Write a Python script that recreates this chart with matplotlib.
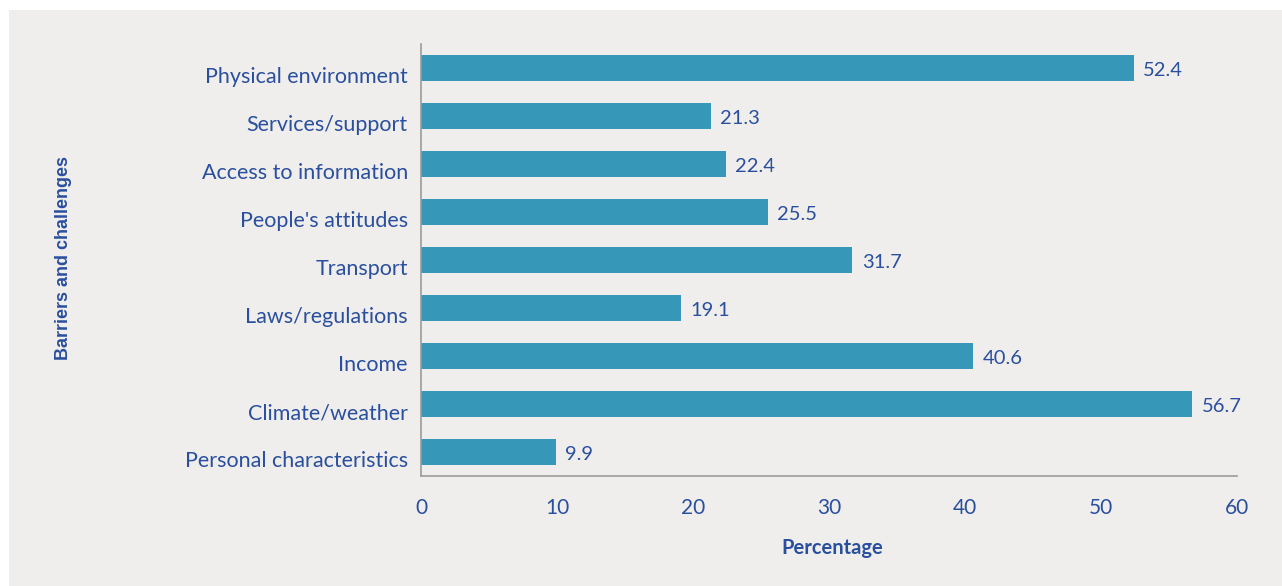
import matplotlib.pyplot as plt
from matplotlib.patches import Rectangle
from matplotlib.transforms import ScaledTranslation

categories = ["Physical environment", "Services/support", "Access to information",
              "People's attitudes", "Transport", "Laws/regulations", "Income",
              "Climate/weather", "Personal characteristics"]
values = [52.4, 21.3, 22.4, 25.5, 31.7, 19.1, 40.6, 56.7, 9.9]
xticks = [0, 10, 20, 30, 40, 50, 60]

bar_color = "#3797b8"
text_color = "#2a4f9e"
panel_color = "#efeeec"

plt.rcParams["font.family"] = ["Lato", "DejaVu Sans"]

fig = plt.figure(figsize=(12.82, 5.86), dpi=100, facecolor="white")
# grey panel behind the chart
fig.patches.append(Rectangle((9 / 1282, 0), 1, 1 - 10 / 586, transform=fig.transFigure,
                             facecolor=panel_color, edgecolor="none", zorder=-5))

ax = fig.add_axes([421 / 1282, 1 - 476 / 586, (1237 - 421) / 1282, (476 - 44) / 586])
ax.set_facecolor("none")
ax.set_zorder(1)

ypos = range(len(categories))
ax.barh(ypos, values, height=0.54, color=bar_color, zorder=2)
nudge = ScaledTranslation(0, -0.02, fig.dpi_scale_trans)
for y, v in zip(ypos, values):
    ax.text(v + 0.7, y, f"{v}", va="center", ha="left", fontsize=14.5,
            color=text_color, transform=ax.transData + nudge)

ax.set_ylim(8.5, -0.5)
ax.set_xlim(0, 60)
ax.set_yticks(list(ypos))
ax.set_yticklabels(categories)
ax.set_xticks(xticks)
ax.tick_params(axis="y", length=0, pad=9.5, labelsize=15.5, labelcolor=text_color)
ax.tick_params(axis="x", length=0, pad=16, labelsize=15, labelcolor=text_color)

# category labels sit a little below the bar centres
shift = ScaledTranslation(0, -0.07, fig.dpi_scale_trans)
for lbl in ax.get_yticklabels():
    lbl.set_transform(lbl.get_transform() + shift)

for side in ["top", "right"]:
    ax.spines[side].set_visible(False)
for side in ["left", "bottom"]:
    ax.spines[side].set_color("#9c9c9c")
    ax.spines[side].set_linewidth(1.2)

fig.text(832 / 1282, 1 - 548 / 586, "Percentage", ha="center", va="center",
         fontsize=14.5, fontweight="bold", color=text_color)
fig.text(63 / 1282, 1 - 258 / 586, "Barriers and challenges", ha="center", va="center",
         rotation=90, fontsize=13, fontweight="bold", color=text_color,
         family=["Liberation Sans", "DejaVu Sans"])

fig.savefig("out.png", dpi=100, facecolor=fig.get_facecolor())
